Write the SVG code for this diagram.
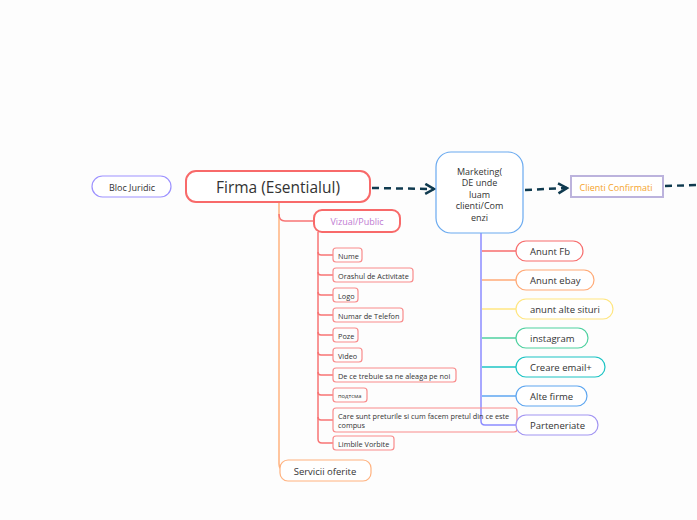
<svg xmlns="http://www.w3.org/2000/svg" width="697" height="520" viewBox="0 0 697 520">
<style>
text{font-family:"Open Sans","DejaVu Sans",sans-serif;fill:#333;}
.c{text-anchor:middle;dominant-baseline:central;}
.l{dominant-baseline:central;}
.leaf{fill:none;stroke:#f98c8c;stroke-width:1.2;}
.ln{fill:none;stroke-width:1.5;}
.s7{font-size:7.3px;}
.s9{font-size:9.5px;}
</style>
<defs>
<marker id="arr" viewBox="0 0 10 10" refX="8" refY="5" markerWidth="5" markerHeight="5" orient="auto">
<path d="M1,1 L8,5 L1,9" fill="none" stroke="#0f3a4f" stroke-width="2"/>
</marker>
</defs>
<rect width="697" height="520" fill="#fdfdfd"/>
<g id="connectors">
<path d="M372,188 L434,189" stroke="#0f3a4f" stroke-width="2.5" stroke-dasharray="7,5" fill="none" marker-end="url(#arr)"/>
<path d="M525,190 L567,188" stroke="#0f3a4f" stroke-width="2.5" stroke-dasharray="7,5" fill="none" marker-end="url(#arr)"/>
<path d="M665,186 L697,185" stroke="#0f3a4f" stroke-width="2.5" stroke-dasharray="7,5" fill="none"/>
<path class="ln" d="M279,202 L279,464 Q279,470 285,470" stroke="#ffb27f"/>
<path class="ln" d="M279,214 Q279,221 285,221 L314,221" stroke="#f87474"/>
<path class="ln" d="M318,232 L318,439 Q318,443 322,443 L333,443" stroke="#f87474"/>
<g stroke="#f87474" class="ln" stroke-width="1.2">
<path d="M318,252 Q318,255 321,255 L333,255"/>
<path d="M318,272 Q318,275 321,275 L333,275"/>
<path d="M318,292 Q318,295 321,295 L333,295"/>
<path d="M318,312 Q318,315 321,315 L333,315"/>
<path d="M318,332 Q318,335 321,335 L333,335"/>
<path d="M318,352 Q318,355 321,355 L333,355"/>
<path d="M318,372 Q318,375 321,375 L333,375"/>
<path d="M318,392 Q318,395 321,395 L333,395"/>
<path d="M318,417 Q318,420 321,420 L333,420"/>
</g>
<path class="ln" d="M481,233 L481,421 Q481,425 485,425 L516,425" stroke="#8c8cff"/>
<path class="ln" d="M482,251 L516,251" stroke="#f76d6d"/>
<path class="ln" d="M482,280 L516,280" stroke="#ffaa77"/>
<path class="ln" d="M482,309 L516,309" stroke="#ffe680"/>
<path class="ln" d="M482,338 L516,338" stroke="#4fd1a0"/>
<path class="ln" d="M482,367 L516,367" stroke="#1cc4c4"/>
<path class="ln" d="M482,396 L516,396" stroke="#5ea6f0"/>
</g>
<g id="bloc-juridic">
<rect x="92" y="176" width="79" height="21" rx="10.5" fill="#fff" stroke="#9d92ff" stroke-width="1.2"/>
<text class="c" x="132" y="187" style="font-size:9px">Bloc Juridic</text>
</g>
<g id="firma">
<rect x="186" y="171" width="184" height="31" rx="10" fill="#fff" stroke="#f86a6a" stroke-width="2"/>
<text class="c" x="278" y="187" style="font-size:15.5px">Firma (Esentialul)</text>
</g>
<g id="marketing">
<rect x="436" y="152" width="87" height="81" rx="15" fill="#fff" stroke="#6aaaf0" stroke-width="1.2"/>
<text class="c" x="479.5" y="171" style="font-size:9px">Marketing(</text>
<text class="c" x="479.5" y="182.5" style="font-size:9px">DE unde</text>
<text class="c" x="479.5" y="194" style="font-size:9px">luam</text>
<text class="c" x="479.5" y="205.5" style="font-size:9px">clienti/Com</text>
<text class="c" x="479.5" y="217" style="font-size:9px">enzi</text>
</g>
<g id="clienti-confirmati">
<rect x="571" y="176" width="92" height="21" fill="#fff" stroke="#bcb3dd" stroke-width="2"/>
<text class="c" x="616" y="187" style="font-size:9px;fill:#f5a42c">Clienti Confirmati</text>
</g>
<g id="vizual-public">
<rect x="314" y="210" width="86" height="22" rx="8" fill="#fff" stroke="#f86a6a" stroke-width="2"/>
<text class="c" x="357" y="221.5" style="font-size:9px;fill:#c07bd2">Vizual/Public</text>
</g>
<g id="nume"><rect class="leaf" x="333" y="248" width="29" height="14" rx="3"/><text class="l s7" x="338" y="255.5">Nume</text></g>
<g id="orashul"><rect class="leaf" x="333" y="268" width="80" height="14" rx="3"/><text class="l s7" x="338" y="275.5">Orashul de Activitate</text></g>
<g id="logo"><rect class="leaf" x="333" y="288" width="25" height="14" rx="3"/><text class="l s7" x="338" y="295.5">Logo</text></g>
<g id="numar"><rect class="leaf" x="333" y="308" width="70" height="14" rx="3"/><text class="l s7" x="338" y="315.5">Numar de Telefon</text></g>
<g id="poze"><rect class="leaf" x="333" y="328" width="25" height="14" rx="3"/><text class="l s7" x="338" y="335.5">Poze</text></g>
<g id="video"><rect class="leaf" x="333" y="348" width="29" height="14" rx="3"/><text class="l s7" x="338" y="355.5">Video</text></g>
<g id="de-ce"><rect class="leaf" x="333" y="368" width="123" height="14" rx="3"/><text class="l s7" x="338" y="375.5">De ce trebuie sa ne aleaga pe noi</text></g>
<g id="podtsma"><rect class="leaf" x="333" y="388" width="34" height="14" rx="3"/><text class="l" x="338" y="395.5" style="font-size:5.8px">подтсма</text></g>
<g id="care-sunt"><rect class="leaf" x="333" y="408" width="184" height="24" rx="3"/><text class="l s7" x="338" y="415.5">Care sunt preturile si cum facem pretul din ce este</text><text class="l s7" x="338" y="424.5">compus</text></g>
<g id="limbile"><rect class="leaf" x="333" y="436" width="61" height="14" rx="3"/><text class="l s7" x="338" y="443.5">Limbile Vorbite</text></g>
<g id="servicii">
<rect x="280" y="460" width="91" height="21" rx="8" fill="#fff" stroke="#ffb27f" stroke-width="1.2"/>
<text class="c" x="325" y="471" style="font-size:9.5px">Servicii oferite</text>
</g>
<g id="anunt-fb"><rect x="516" y="241" width="67" height="20" rx="10" fill="#fff" stroke="#f76d6d" stroke-width="1.2"/><text class="l s9" x="530" y="251.5">Anunt Fb</text></g>
<g id="anunt-ebay"><rect x="516" y="270" width="78" height="20" rx="10" fill="#fff" stroke="#ffaa77" stroke-width="1.2"/><text class="l s9" x="530" y="280.5">Anunt ebay</text></g>
<g id="anunt-alte"><rect x="516" y="299" width="97" height="20" rx="10" fill="#fff" stroke="#ffe680" stroke-width="1.2"/><text class="l s9" x="530" y="309.5">anunt alte situri</text></g>
<g id="instagram"><rect x="516" y="328" width="72" height="20" rx="10" fill="#fff" stroke="#4fd1a0" stroke-width="1.2"/><text class="l s9" x="530" y="338.5">instagram</text></g>
<g id="creare-email"><rect x="516" y="357" width="89" height="20" rx="10" fill="#fff" stroke="#1cc4c4" stroke-width="1.2"/><text class="l s9" x="530" y="367.5">Creare email+</text></g>
<g id="alte-firme"><rect x="516" y="386" width="71" height="20" rx="10" fill="#fff" stroke="#5ea6f0" stroke-width="1.2"/><text class="l s9" x="530" y="396.5">Alte firme</text></g>
<g id="parteneriate"><rect x="516" y="415" width="82" height="20" rx="10" fill="#fff" stroke="#a295f2" stroke-width="1.2"/><text class="l s9" x="530" y="425.5">Parteneriate</text></g>
</svg>
